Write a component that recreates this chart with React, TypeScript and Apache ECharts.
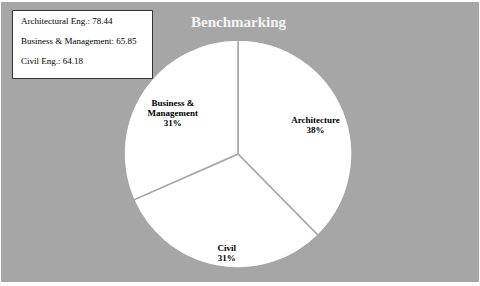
import React, { useEffect, useRef } from "react";
import * as echarts from "echarts";

const sliceNames = ["Architecture", "Civil", "Business & Management"];
const sliceValues = [78.44, 64.18, 65.85];
const slicePercentLabels = ["38%", "31%", "31%"];
const sliceLabelText = ["Architecture", "Civil", "Business &\nManagement"];

const boxNames = ["Architectural Eng.", "Business & Management", "Civil Eng."];
const boxValues = [78.44, 65.85, 64.18];

const titleText = "Benchmarking";

const GRAY = "#a6a6a6";
const FONT = "Liberation Serif";

export default function App() {
  const ref = useRef<HTMLDivElement>(null);
  useEffect(() => {
    if (!ref.current) return;
    const chart = echarts.init(ref.current, undefined, { renderer: "svg" });
    const labelOffsets = [
      [22, -6],
      [0, 40],
      [-15, -8],
    ];
    const boxTexts = boxNames.map((n, i) => ({
      type: "text",
      left: 21,
      top: 16 + i * 20,
      style: {
        text: `${n}: ${boxValues[i].toFixed(2)}`,
        fontFamily: FONT,
        fontSize: 9,
        fill: "#000",
      },
      z: 101,
    }));
    chart.setOption({
      animation: false,
      backgroundColor: "#ffffff",
      title: {
        text: titleText,
        left: 186,
        top: 9,
        textStyle: {
          color: "#f4f4f4",
          fontFamily: FONT,
          fontWeight: "bold",
          fontSize: 15,
        },
      },
      graphic: [
        {
          type: "rect",
          shape: { x: 1, y: 2, width: 478, height: 280 },
          style: { fill: GRAY },
          z: -10,
          silent: true,
        },
        {
          type: "rect",
          shape: { x: 12.5, y: 10.5, width: 140, height: 68 },
          style: { fill: "#ffffff", stroke: "#333", lineWidth: 1 },
          z: 100,
        },
        ...boxTexts,
      ],
      series: [
        {
          type: "pie",
          center: [238, 154],
          radius: 114,
          startAngle: 90,
          clockwise: true,
          silent: true,
          itemStyle: { color: "#ffffff", borderColor: GRAY, borderWidth: 1.5 },
          label: {
            show: true,
            position: "inside",
            fontFamily: FONT,
            fontWeight: "bold",
            fontSize: 9,
            lineHeight: 10,
            color: "#000",
            align: "center",
          },
          labelLine: { show: false },
          data: sliceNames.map((name, i) => ({
            name,
            value: sliceValues[i],
            label: {
              formatter: `${sliceLabelText[i]}\n${slicePercentLabels[i]}`,
              offset: labelOffsets[i],
            },
          })),
        },
      ],
    });
    return () => chart.dispose();
  }, []);
  return (
    <div
      ref={ref}
      style={{ position: "fixed", left: 0, top: 0, width: 480, height: 286 }}
    />
  );
}
